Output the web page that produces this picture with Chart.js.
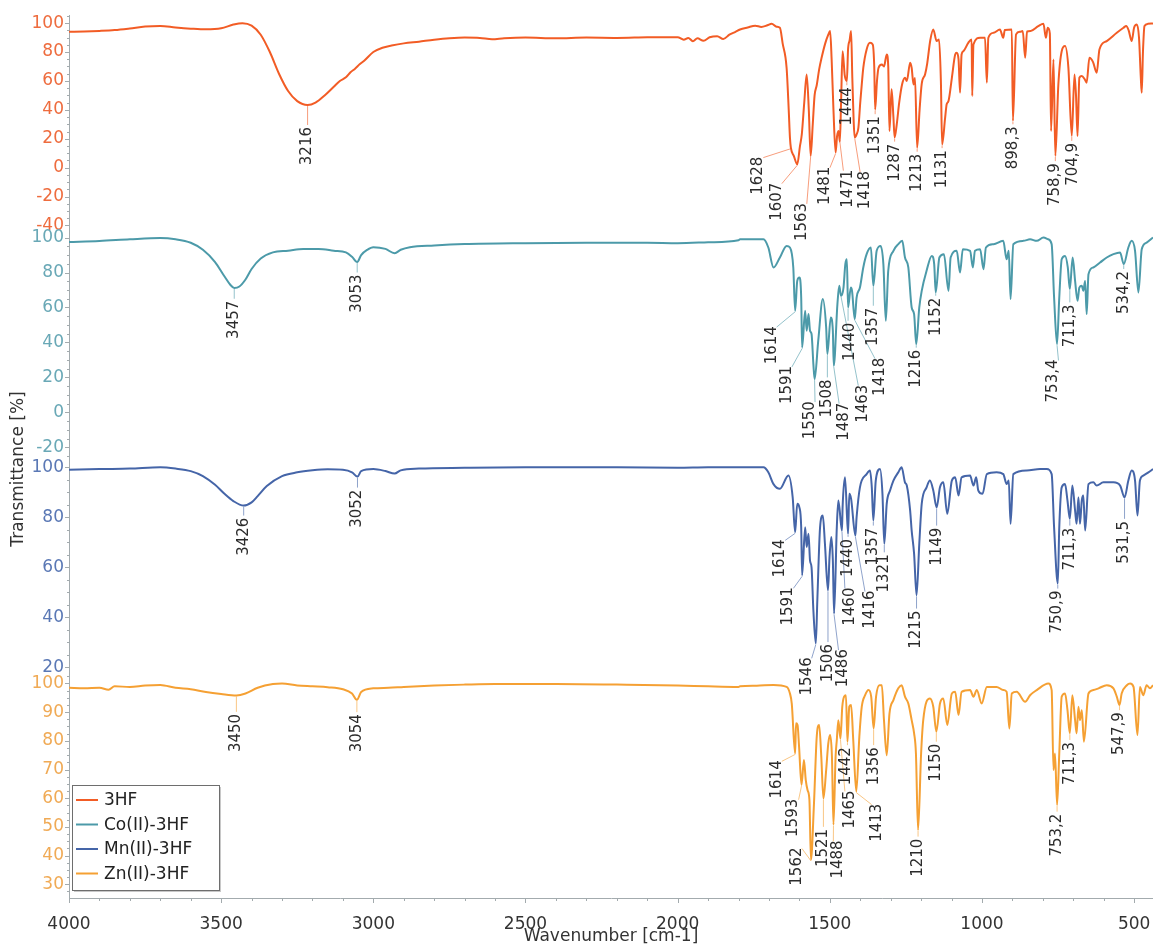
<!DOCTYPE html>
<html lang="en">
<head>
<meta charset="UTF-8">
<title>FTIR spectra | 3HF and its metal complexes</title>
<script src="https://cdn.jsdelivr.net/npm/chart.js@4.4.1/dist/chart.umd.min.js"></script>
<style>
  html, body { margin: 0; padding: 0; background: #fff; }
  canvas { display: block; }
</style>
</head>
<body>
<canvas id="ir" width="1153" height="946"></canvas>
<script>
// [wavenumber cm-1, transmittance %]
const hf3Data = [
  [4000,94],[3950,94.2],[3900,94.6],[3850,95.2],[3800,96.3],[3750,97.6],[3700,98],[3650,97],[3600,96.2],[3550,95.7],
  [3500,96.4],[3460,99],[3430,100],[3400,98.3],[3370,92],[3340,80],[3310,65],[3280,53],[3250,46],[3216,43.3],
  [3190,45],[3160,50],[3130,56],[3110,60],[3090,62.5],[3075,66],[3060,68.5],[3045,71.5],[3030,74],[3000,80],
  [2970,83],[2940,84.5],[2900,86],[2850,87.2],[2800,88.5],[2750,89.5],[2700,90],[2650,89.8],[2610,88.8],[2570,89.5],
  [2500,90],[2400,89.6],[2300,90],[2200,89.8],[2100,90.2],[2000,90.3],[1980,88.5],[1965,89.8],[1950,87.5],[1935,89.5],
  [1915,87.8],[1895,90.2],[1870,91],[1850,89],[1830,92],[1810,94],
  [1795,95.6],[1770,97],[1745,98.2],[1725,97.4],[1705,98.5],[1691,99.5],[1675,97.5],[1664,96.8],[1655,86],[1642,69.1],
  [1635,40],[1631,20.8],[1628,13.8],[1618,8],[1607,2.3],[1598,15],[1592,23.1],[1584,45],[1576,64.5],[1569,40],
  [1563,8.1],[1556,30],[1550,50],[1543,57],[1535,68],[1527,76],[1515,86],[1505,92],[1499,94.5],[1494,75],
  [1488,40],[1481,10.4],[1476,22],[1471,25.4],[1467,18],[1463,45],[1458,80.6],[1451,64],[1444,59.9],[1440,82],
  [1435,88],[1430,94.5],[1426,62],[1418,20.8],[1412,23],[1406,27.7],[1400,45],[1395,57.6],[1390,69],[1379,81.8],
  [1368,86.4],[1359,85.3],[1354,70],[1351,40.3],[1345,60],[1340,69],[1329,71.4],[1322,70],[1313,78.3],[1308,70],
  [1304,25.4],[1297,54.2],[1291,35],[1287,20.8],[1280,30],[1272,45],[1262,58],[1253,62.2],[1247,60],[1236,72.6],
  [1231,69],[1225,57.6],[1220,62],[1213,13.8],[1205,40],[1198,58],[1187,64.5],[1180,72],[1170,88],[1160,95.6],
  [1149,87.6],[1141,88.7],[1135,60],[1131,16.1],[1121,34.6],[1116,43.8],[1110,46.1],[1099,62],[1088,78.3],[1083,79.5],
  [1077,75],[1072,51.9],[1067,78.3],[1061,80.6],[1045,86.4],[1034,88.7],[1032,49.6],[1028,85.3],[1006,89.9],[990,89.9],
  [984,58.8],[979,89.9],[962,93.3],[941,95.6],[930,89.9],[925,95.3],[902,95.6],[898.3,32.3],[888,92.2],[875,94],
  [866,94.5],[858,76],[852,94.2],[840,94.5],[815,97.9],[798,99.5],[790,89.9],[784,96.8],[777,93],[773,25.4],
  [765,74.9],[758.9,8.1],[749,57.6],[738,80.6],[727,84.1],[716,69],[704.9,22],[696,64.5],[691,50],[686,21.9],
  [680,62.2],[672,63.4],[662,61],[656,58.8],[647,76],[635,73],[623,65.7],[614,81.8],[590,87.6],[557,93.3],
  [535,96.8],[526,98],[518,95],[508,87.6],[500,97],[491,99.1],[484,90],[478,62],[475,51.9],[471,80],
  [466,98],[455,99.5],[438,99.8]
];

const coData = [
  [4000,97.5],[3900,98],[3800,99],[3700,99.7],[3650,99],[3600,97],[3560,93],[3520,86],[3490,78],[3470,73],
  [3457,71.2],[3440,72],[3420,76],[3400,82],[3370,88],[3330,91.5],[3280,92.5],[3230,93.5],[3180,93.5],[3130,92.5],
  [3090,91.5],[3070,89],[3053,86],[3040,90],[3020,93],[3000,94.5],[2960,93.5],[2930,91],[2910,93],[2880,94.5],
  [2800,95.5],[2700,96.3],[2500,96.8],[2300,97],[2100,97],[2000,96.8],[1900,97.3],[1800,98.5],
  [1795,99],[1718,99],[1702,94.3],[1685,82.9],[1664,88.6],[1642,95.2],[1631,94.3],[1620,82.9],[1614,58.1],[1607,75.2],
  [1600,77.1],[1594,65.7],[1591,37.1],[1581,58.1],[1576,46.7],[1570,56.2],[1565,46.7],[1560,44.8],[1554,27.6],[1550,19],
  [1538,41],[1523,64.8],[1512,48.6],[1508,33.3],[1497,54.3],[1490,46.7],[1487,26.7],[1475,61.9],[1469,72.4],[1463,66.7],
  [1455,71.4],[1449,84.8],[1444,87.6],[1440,60],[1431,71.4],[1427,69.5],[1418,53.3],[1412,65.7],[1401,71.4],[1390,82.9],
  [1379,90.5],[1365,94.3],[1357,72.4],[1346,92.4],[1333,95.2],[1324,84.8],[1316,52.4],[1308,81],[1291,92.4],[1275,96.2],
  [1262,98.1],[1253,88.6],[1242,82.9],[1231,60],[1223,56.2],[1216,39],[1206,60],[1198,69.5],[1182,81],[1165,89.5],
  [1157,84.8],[1152,68.6],[1140,88.6],[1125,90.5],[1110,69.5],[1103,88.6],[1083,92.4],[1072,80],[1063,93.3],[1039,92.4],
  [1030,82.9],[1023,92.4],[1006,93.3],[995,81.9],[987,94.3],[962,96.2],[930,98.1],[919,87.6],[912,92.4],[906,64.8],
  [897,96.2],[864,98.1],[842,99],[820,98.1],[798,100],[782,99],[771,96.2],[763,65.7],[753.4,39],[746,65.7],
  [738,87.6],[727,89.5],[718,82.9],[711.3,70.5],[702,88.6],[694,75.2],[686,63.8],[680,71.4],[672,72.4],[667,69.5],
  [661,75.2],[656,56.2],[650,79],[634,82.9],[612,85.7],[590,88.6],[568,90.5],[546,91.4],[534.2,84.8],[519,94.3],
  [508,98.1],[497,92.4],[486,68.6],[475,93.3],[459,97.1],[438,100]
];

const mnData = [
  [4000,99],[3900,99.3],[3800,99.5],[3700,100],[3650,99.5],[3600,98.5],[3560,96.5],[3520,93],[3490,89.5],[3460,86.5],
  [3426,84.7],[3400,86],[3380,88.5],[3350,92.5],[3300,96.5],[3250,98],[3200,98.8],[3150,99.2],[3100,99],[3070,98],
  [3052,96.3],[3040,98.5],[3000,99.3],[2960,98.5],[2930,97.5],[2910,98.8],[2850,99.5],[2700,99.8],[2500,100],[2200,100],
  [2000,99.8],[1900,100],[1800,100],
  [1795,100],[1718,100],[1702,98],[1685,93.3],[1664,91.4],[1636,96.7],[1622,88],[1614,74],[1607,85.4],[1600,84],
  [1594,76],[1591,56.8],[1581,76],[1576,68.1],[1570,73.4],[1565,62.7],[1560,60],[1554,42.8],[1546,29.5],[1541,46.8],
  [1532,76],[1523,80.7],[1516,69.4],[1506,50.8],[1501,64],[1495,72.1],[1490,62.7],[1486,41.5],[1477,76],[1472,86.7],
  [1460,74.7],[1458,84],[1450,96],[1440,73.4],[1436,89.4],[1430,87.4],[1416,72.7],[1412,80],[1401,92],[1379,97.3],
  [1368,98.7],[1362,92],[1357,78.7],[1349,94.7],[1335,99.3],[1327,89.4],[1321,69.4],[1313,85.4],[1302,90.7],[1291,94.7],
  [1275,98],[1264,100],[1253,94],[1247,92.7],[1236,82.7],[1231,74.7],[1223,65.4],[1215,48.8],[1206,69.4],[1198,85.4],
  [1182,92],[1171,94.7],[1160,90.7],[1149,84],[1138,92],[1127,94],[1114,81.4],[1099,94.7],[1088,96],[1077,88.7],
  [1067,96],[1039,96.7],[1028,92.7],[1019,96],[1012,90.7],[998,89.4],[984,97.3],[952,98],[930,97.3],[919,93.3],
  [912,94.7],[906,77.4],[897,97.3],[853,98.7],[809,99.3],[787,99.3],[771,97.3],[763,76],[750.9,53.5],[746,76],
  [738,92],[727,93.3],[719,86.7],[711.3,79.4],[703,92.7],[694,82.7],[689,77.4],[683,88],[678,77.4],[672,86.7],
  [667,88.7],[661,74.7],[650,93.3],[634,94],[623,92.7],[601,94],[568,94],[546,92.7],[531.5,88],[519,94.7],
  [508,98.7],[497,94.7],[489,80.7],[481,94.7],[470,96.7],[453,98],[438,99.3]
];

const znData = [
  [4000,98.5],[3950,98.3],[3900,98.5],[3870,97.8],[3850,99],[3800,98.8],[3750,99.3],[3700,99.5],[3650,98.5],[3600,98],
  [3550,97],[3500,96.3],[3450,95.8],[3420,96.5],[3380,98.5],[3330,99.8],[3300,100],[3250,99.3],[3200,99],[3150,98.7],
  [3100,98],[3070,96.5],[3054,94.3],[3040,97],[3000,98.3],[2950,98.5],[2900,98.8],[2800,99.3],[2700,99.6],[2600,99.8],
  [2400,99.8],[2200,99.6],[2000,99.3],[1900,99],[1800,98.8],
  [1795,99],[1740,99.2],[1685,99.5],[1642,98.8],[1631,96.5],[1625,93],[1614,75.6],[1611,86.1],[1606,85.5],[1601,78],
  [1593,64.6],[1585,73.3],[1579,66.3],[1573,62.8],[1567,59.4],[1562,38.5],[1552,58.2],[1543,81.4],[1535,85.5],[1528,74.5],
  [1521,59.9],[1512,69.8],[1505,79.1],[1499,82],[1493,74.5],[1488,50.7],[1481,74.5],[1477,80.3],[1472,87.2],[1465,80.8],
  [1459,91.9],[1453,95.4],[1447,95.9],[1442,79.7],[1436,91.9],[1430,92.5],[1423,80.3],[1413,62.3],[1403,81.4],[1395,91.9],
  [1384,95.9],[1373,97.7],[1364,95.4],[1356,84.3],[1348,95.4],[1337,99.4],[1329,99.4],[1322,87.2],[1313,75],[1304,89.5],
  [1291,94.2],[1275,98.3],[1264,99.4],[1253,95.4],[1242,93],[1231,87.2],[1223,82.6],[1217,75.6],[1210,48.9],[1200,75.6],
  [1193,87.2],[1171,94.8],[1160,91.9],[1150,83.2],[1138,93],[1127,94.8],[1114,85.5],[1099,96.5],[1088,97.1],[1077,89],
  [1067,97.1],[1039,97.7],[1028,95.4],[1017,97.7],[1001,93],[984,98.8],[952,98.8],[930,97.7],[919,97.1],[910,84.3],
  [902,96.5],[886,97.1],[858,93.6],[842,95.9],[820,97.7],[782,100],[771,97.7],[765,69.8],[760,75.6],[753.2,57.6],
  [746,75.6],[738,95.4],[727,96.5],[719,90.7],[711.3,82.6],[703,95.9],[694,87.2],[689,82.6],[683,91.9],[678,87.2],
  [672,90.7],[665,79.7],[650,96.5],[634,97.7],[617,98.3],[590,99.4],[568,98.3],[557,95.4],[547.9,92.5],[541,96.5],
  [524,99.4],[513,100],[502,98.8],[489,82],[481,98.8],[470,95.9],[459,99.4],[448,98.3],[438,99.4]
];

// peak labels: [text, wavenumber, transmittance at the peak]
const hf3Peaks = [
  ['3216',3216,43.3],['1628',1628,13.8],['1607',1607,2.3],['1563',1563,8.1],['1481',1481,10.4],['1471',1471,25.4],
  ['1444',1444,59.9],['1418',1418,20.8],['1351',1351,40.3],['1287',1287,20.8],['1213',1213,13.8],['1131',1131,16.1],
  ['898,3',898.3,32.3],['758,9',758.9,8.1],['704,9',704.9,22]
];
const hf3LabelAt = [
  [3216,29.5],[1735,9],[1674,-9],[1592,-23],[1516,2],[1439,0],
  [1444,57],[1384,-1],[1351,37],[1287,18],[1213,11],[1131,13.5],
  [898.3,30],[758.9,4.5],[700,18.5]
];
const coPeaks = [
  ['3457',3457,71.2],['3053',3053,86],['1614',1614,58.1],['1591',1591,37.1],['1550',1550,19],['1508',1508,33.3],
  ['1487',1487,26.7],['1463',1463,66.7],['1440',1440,60],['1418',1418,53.3],['1357',1357,72.4],['1216',1216,39],
  ['1152',1152,68.6],['753,4',753.4,39],['711,3',711.3,70.5],['534,2',534.2,84.8]
];
const coLabelAt = [
  [3457,65],[3053,80],[1691,50.5],[1641,27.7],[1565,7.6],[1508,20],
  [1453,6.7],[1390,17],[1434,52.4],[1335,32.4],[1357,61],[1216,37],
  [1152,66.7],[765,31.4],[711.3,62.9],[534.2,82]
];
const mnPeaks = [
  ['3426',3426,84.7],['3052',3052,96.3],['1614',1614,74],['1591',1591,56.8],['1546',1546,29.5],['1506',1506,50.8],
  ['1486',1486,41.5],['1460',1460,74.7],['1440',1440,73.4],['1416',1416,72.7],['1357',1357,78.7],['1321',1321,69.4],
  ['1215',1215,48.8],['1149',1149,84],['750,9',750.9,53.5],['711,3',711.3,79.4],['531,5',531.5,88]
];
const mnLabelAt = [
  [3426,80.7],[3052,91.9],[1663,72],[1636,52.8],[1576,24.8],[1506,30.1],
  [1455,28.1],[1434,52.7],[1440,72.2],[1368,51.5],[1357,76.7],[1321,66],
  [1215,43.5],[1149,76.7],[754,51.5],[711.3,76.7],[531.5,79.4]
];
const znPeaks = [
  ['3450',3450,95.8],['3054',3054,94.3],['1614',1614,75.6],['1593',1593,64.6],['1562',1562,38.5],['1521',1521,59.9],
  ['1488',1488,50.7],['1465',1465,80.8],['1442',1442,79.7],['1413',1413,62.3],['1356',1356,84.3],['1210',1210,48.9],
  ['1150',1150,83.2],['753,2',753.2,57.6],['711,3',711.3,82.6],['547,9',547.9,92.5]
];
const znLabelAt = [
  [3450,90.1],[3054,90],[1674,73.9],[1619,60.5],[1608,43.5],[1521,50],
  [1472,46],[1434,63.4],[1447,78.5],[1346,58.8],[1356,78.5],[1210,46.6],
  [1150,79.7],[753.2,55.3],[711.3,80.3],[547.9,90.7]
];

const xTicks = [4000, 3500, 3000, 2500, 2000, 1500, 1000, 500];
const hf3Ticks = [-40, -20, 0, 20, 40, 60, 80, 100];
const coTicks = [-20, 0, 20, 40, 60, 80, 100];
const mnTicks = [20, 40, 60, 80, 100];
const znTicks = [30, 40, 50, 60, 70, 80, 90, 100];

const FONT = 'DejaVu Sans';
const AXIS_COLOR = '#a3abae';

const panels = [
  { id: 'yHF', name: '3HF', data: hf3Data, peaks: hf3Peaks, labelAt: hf3LabelAt, ticks: hf3Ticks,
    min: -43.8, max: 105.5, weight: 216, order: 4, line: '#f25c25', tick: '#ee6c3e' },
  { id: 'yCo', name: 'Co(II)-3HF', data: coData, peaks: coPeaks, labelAt: coLabelAt, ticks: coTicks,
    min: -25.3, max: 103.8, weight: 226, order: 3, line: '#4c9aa9', tick: '#69a8b6' },
  { id: 'yMn', name: 'Mn(II)-3HF', data: mnData, peaks: mnPeaks, labelAt: mnLabelAt, ticks: mnTicks,
    min: 16.4, max: 104.3, weight: 220, order: 2, line: '#4565a8', tick: '#5a78b5' },
  { id: 'yZn', name: 'Zn(II)-3HF', data: znData, peaks: znPeaks, labelAt: znLabelAt, ticks: znTicks,
    min: 25.2, max: 102.5, weight: 222, order: 1, line: '#f5a033', tick: '#f0aa55' }
];

const scales = {
  x: {
    type: 'linear', reverse: true, min: 438, max: 4000,
    afterBuildTicks: axis => { axis.ticks = xTicks.map(v => ({ value: v })); },
    afterFit: axis => { axis.height = 48; },
    // ticks are drawn by the frame plugin; tickLength only spaces the labels
    grid: { display: false, drawTicks: true, tickLength: 16 },
    border: { display: true, color: AXIS_COLOR, width: 1 },
    ticks: { autoSkip: false, maxRotation: 0, padding: 0, color: '#333', font: { family: FONT, size: 17 },
             callback: v => String(v) }
  }
};
panels.forEach(p => {
  scales[p.id] = {
    type: 'linear', position: 'left', stack: 'ir', stackWeight: p.weight, weight: p.order,
    min: p.min, max: p.max,
    afterBuildTicks: axis => { axis.ticks = p.ticks.map(v => ({ value: v })); },
    afterFit: axis => { axis.width = 59; },
    grid: { display: false, drawTicks: false },
    border: { display: true, color: AXIS_COLOR, width: 1 },
    ticks: { autoSkip: false, padding: 5, color: p.tick, font: { family: FONT, size: 17 },
             callback: v => String(v) }
  };
});

// minor/major tick marks, axis titles and the boxed legend
const framePlugin = {
  id: 'frame',
  afterDraw(chart) {
    const { ctx, chartArea } = chart;
    const xs = chart.scales.x;
    ctx.save();
    ctx.strokeStyle = AXIS_COLOR;
    ctx.lineWidth = 1;
    ctx.beginPath();
    for (let w = 500; w <= 4000; w += 100) {
      const px = Math.round(xs.getPixelForValue(w)) + 0.5;
      const len = w % 500 === 0 ? 5 : 3;
      ctx.moveTo(px, chartArea.bottom);
      ctx.lineTo(px, chartArea.bottom + len);
    }
    panels.forEach(p => {
      const ys = chart.scales[p.id];
      const step = (p.ticks[1] - p.ticks[0]) / 4;
      const start = Math.ceil(p.min / step) * step;
      for (let v = start; v <= p.max; v += step) {
        const py = Math.round(ys.getPixelForValue(v)) + 0.5;
        const major = p.ticks.some(t => Math.abs(t - v) < 1e-6);
        ctx.moveTo(chartArea.left, py);
        ctx.lineTo(chartArea.left - (major ? 4 : 2), py);
      }
    });
    ctx.stroke();

    ctx.fillStyle = '#333';
    ctx.font = `17px ${FONT}`;
    ctx.textAlign = 'center';
    ctx.textBaseline = 'middle';
    ctx.fillText('Wavenumber [cm-1]', (chartArea.left + chartArea.right) / 2, 937);
    ctx.save();
    ctx.translate(19, 469);
    ctx.rotate(-Math.PI / 2);
    ctx.fillText('Transmittance [%]', 0, 0);
    ctx.restore();

    // legend box
    const bx = 72, by = 785, bw = 147, bh = 105;
    ctx.fillStyle = '#c8c8c8';
    ctx.fillRect(bx + 2, by + 2, bw, bh);
    ctx.fillStyle = '#fff';
    ctx.fillRect(bx, by, bw, bh);
    ctx.strokeStyle = '#6e6e6e';
    ctx.strokeRect(bx + 0.5, by + 0.5, bw, bh);
    ctx.textAlign = 'left';
    ctx.font = `17px ${FONT}`;
    chart.data.datasets.forEach((ds, i) => {
      const ly = by + 15 + i * 24.5;
      ctx.strokeStyle = ds.borderColor;
      ctx.lineWidth = 2;
      ctx.beginPath();
      ctx.moveTo(bx + 4, ly);
      ctx.lineTo(bx + 26, ly);
      ctx.stroke();
      ctx.fillStyle = '#222';
      ctx.fillText(ds.label, bx + 32, ly + 1);
    });
    ctx.restore();
  }
};

// rotated peak labels with leader lines
const peakPlugin = {
  id: 'peaks',
  afterDatasetsDraw(chart) {
    const { ctx } = chart;
    const xs = chart.scales.x;
    ctx.save();
    ctx.font = `15px ${FONT}`;
    panels.forEach(p => {
      const ys = chart.scales[p.id];
      p.peaks.forEach(([text, w, v], i) => {
        const [lw, lv] = p.labelAt[i];
        const px = xs.getPixelForValue(w), py = ys.getPixelForValue(v);
        const lx = xs.getPixelForValue(lw), ly = ys.getPixelForValue(lv);
        const slanted = Math.abs(lx - px) > 2;
        const ex = slanted ? lx + Math.sign(px - lx) * 5 : px;
        const ey = slanted ? ly + 3 : ly;
        ctx.strokeStyle = p.line;
        ctx.globalAlpha = 0.6;
        ctx.lineWidth = 1;
        ctx.beginPath();
        ctx.moveTo(px, py + 1);
        ctx.lineTo(ex, ey);
        ctx.stroke();
        ctx.globalAlpha = 1;
        ctx.fillStyle = '#2b2b2b';
        ctx.save();
        ctx.translate(lx, ly + 2);
        ctx.rotate(-Math.PI / 2);
        ctx.textAlign = 'right';
        ctx.textBaseline = 'middle';
        ctx.fillText(text, 0, 0);
        ctx.restore();
      });
    });
    ctx.restore();
  }
};

new Chart(document.getElementById('ir'), {
  type: 'line',
  data: {
    datasets: panels.map(p => ({
      label: p.name,
      data: p.data.map(([x, y]) => ({ x, y })),
      yAxisID: p.id,
      borderColor: p.line,
      borderWidth: 2,
      pointRadius: 0,
      cubicInterpolationMode: 'monotone',
      fill: false
    }))
  },
  options: {
    responsive: false,
    animation: false,
    layout: { padding: { left: 10, top: 14, right: 0, bottom: 0 } },
    plugins: { legend: { display: false }, tooltip: { enabled: false } },
    scales
  },
  plugins: [peakPlugin, framePlugin]
});
</script>
</body>
</html>
